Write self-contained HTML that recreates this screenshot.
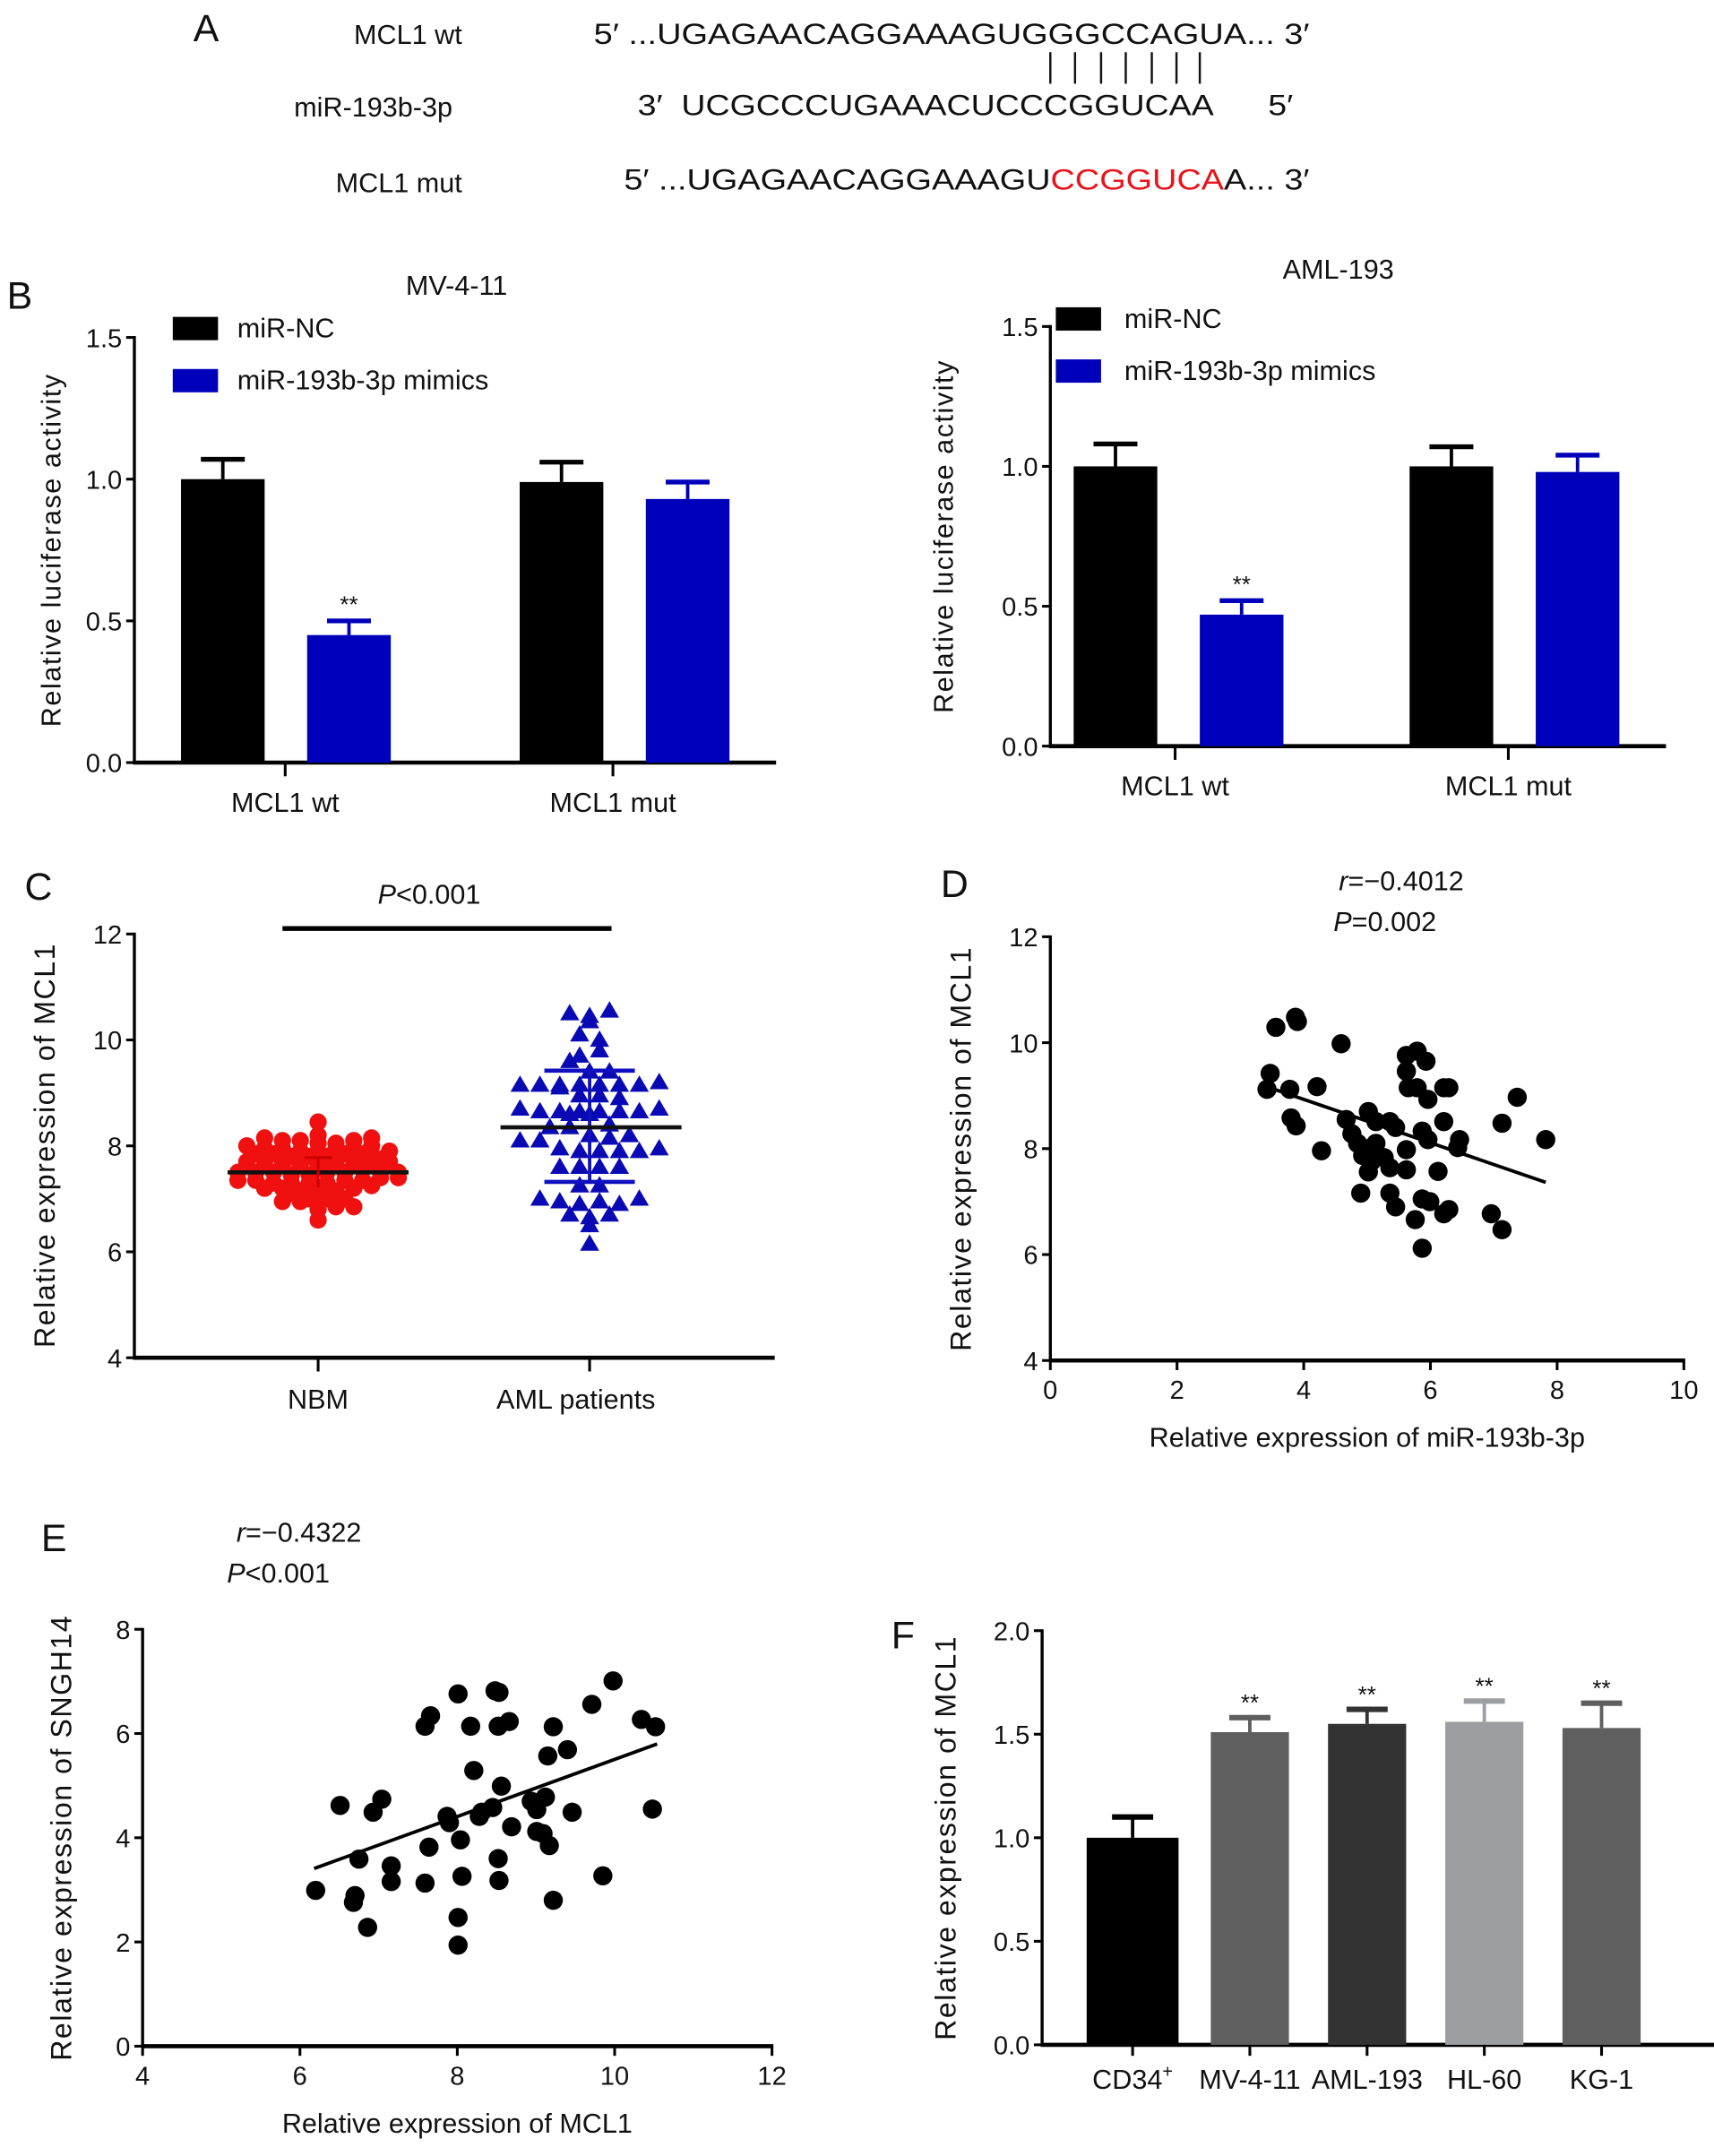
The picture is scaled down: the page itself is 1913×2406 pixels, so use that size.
<!DOCTYPE html>
<html><head><meta charset="utf-8">
<style>
html,body{margin:0;padding:0;background:#fff}
svg{display:block}
text{font-family:"Liberation Sans",sans-serif;fill:#111}
</style></head>
<body>
<svg id="fig" width="1913" height="2406" viewBox="0 0 1250 1572" xmlns="http://www.w3.org/2000/svg">
<!-- Panel A -->
<g>
<text x="141" y="30" font-size="28">A</text>
<text x="337" y="32" font-size="20" text-anchor="end">MCL1 wt</text>
<text x="433" y="32" font-size="21" textLength="522" lengthAdjust="spacingAndGlyphs">5′  ...UGAGAACAGGAAAGUGGGCCAGUA...  3′</text>
<g stroke="#111" stroke-width="1.6">
<line x1="766" y1="38" x2="766" y2="61"/><line x1="784" y1="38" x2="784" y2="61"/><line x1="803" y1="38" x2="803" y2="61"/><line x1="821" y1="38" x2="821" y2="61"/><line x1="840" y1="38" x2="840" y2="61"/><line x1="858" y1="38" x2="858" y2="61"/><line x1="875" y1="38" x2="875" y2="61"/>
</g>
<text x="330" y="85" font-size="20" text-anchor="end">miR-193b-3p</text>
<text x="465" y="84" font-size="21" textLength="478" lengthAdjust="spacingAndGlyphs" xml:space="preserve">3′  UCGCCCUGAAACUCCCGGUCAA      5′</text>
<text x="337" y="140" font-size="20" text-anchor="end">MCL1 mut</text>
<text x="455" y="138" font-size="21" textLength="500" lengthAdjust="spacingAndGlyphs">5′  ...UGAGAACAGGAAAGU<tspan fill="#e8141b">CCGGUCA</tspan>A...  3′</text>
</g>
<text x="5" y="225" font-size="28">B</text>
<text x="18" y="656" font-size="28">C</text>
<text x="686" y="654" font-size="28">D</text>
<text x="30" y="1131" font-size="28">E</text>
<text x="650" y="1202" font-size="28">F</text>
<g id="g"></g>
</svg>
<script>
// ---------- data ----------
const lucGroups = ["MCL1 wt","MCL1 mut"];
const lucSeries = ["miR-NC","miR-193b-3p mimics"];
const mvNC = [1.0, 0.99];
const mvNCerr = [1.07, 1.06];
const mvMim = [0.45, 0.93];
const mvMimErr = [0.50, 0.99];
const amlNC = [1.0, 1.0];
const amlNCerr = [1.08, 1.07];
const amlMim = [0.47, 0.98];
const amlMimErr = [0.52, 1.04];
const lucTicks = [0, 0.5, 1.0, 1.5];
const lucTickLabels = ["0.0","0.5","1.0","1.5"];

const nbmVals = [8.45,
 8.2,8.15,8.1,8.1,8.05,8.05,8.1,8.15,
 8.0,7.95,7.95,7.9,7.9,7.95,7.95,8.0,
 7.85,7.85,7.8,7.8,7.8,7.85,7.85,7.9,
 7.7,7.7,7.65,7.65,7.6,7.65,7.65,7.7,7.7,7.75,
 7.5,7.5,7.5,7.45,7.45,7.5,7.5,7.55,7.55,7.5,
 7.35,7.35,7.3,7.3,7.3,7.3,7.35,7.35,7.4,7.4,
 7.2,7.2,7.15,7.15,7.1,7.15,7.2,7.25,
 7.0,6.95,6.95,6.9,7.0,7.0,
 6.85,6.8,6.85,6.6];
const nbmMean = 7.5, nbmSdHi = 7.78, nbmSdLo = 7.22;
const amlVals = [10.5,10.45,10.55,10.35,
 10.1,10.0,
 9.7,9.8,9.6,
 9.4,9.4,
 9.15,9.15,9.15,9.15,9.1,9.15,9.15,9.15,9.2,
 8.95,8.95,8.9,
 8.7,8.65,8.65,8.65,8.6,8.6,8.65,8.65,8.65,8.7,
 8.4,8.35,8.35,
 8.2,8.1,8.1,8.15,8.2,
 7.95,7.9,7.9,7.9,7.9,7.95,
 7.6,7.6,7.6,7.6,
 7.25,7.25,
 7.0,6.95,6.9,6.95,6.9,7.0,
 6.7,6.65,6.7,
 6.5,6.15];
const amlMean = 8.35, amlSdHi = 9.42, amlSdLo = 7.32;
const cTicks = [4,6,8,10,12];

const dX = [3.56,3.87,3.9,4.59,3.47,3.42,3.78,4.21,3.8,3.88,4.28,4.67,4.76,5.02,5.14,5.36,5.45,4.85,5.02,5.14,4.93,5.07,5.27,5.02,5.36,5.62,5.62,5.87,5.96,6.21,6.46,6.43,6.12,5.62,5.79,5.93,5.62,5.65,5.79,5.96,6.21,6.29,7.37,7.13,7.82,4.9,5.36,5.45,5.87,5.99,5.76,6.21,6.29,6.96,7.13,5.87];
const dY = [10.29,10.48,10.4,9.98,9.42,9.12,9.12,9.17,8.58,8.43,7.96,8.55,8.28,8.7,8.51,8.51,8.4,8.1,8.0,8.1,7.87,7.76,7.83,7.56,7.64,7.98,7.6,8.33,8.17,8.51,8.17,8.02,7.57,9.76,9.84,9.65,9.46,9.15,9.15,8.93,9.15,9.15,8.97,8.48,8.17,7.16,7.16,6.9,7.05,7.0,6.66,6.77,6.85,6.77,6.47,6.12];
const dFit = {a:10.57, b:-0.41, x0:3.42, x1:7.82};
const dXTicks = [0,2,4,6,8,10];
const dYTicks = [4,6,8,10,12];

const eX = [6.2,6.7,6.68,6.86,6.51,6.93,7.04,6.75,7.16,7.16,7.59,7.64,7.59,7.66,7.87,7.9,8.01,8.04,8.06,8.01,8.01,8.17,8.21,8.31,8.45,8.48,8.53,8.52,8.66,8.56,8.52,8.53,8.69,8.94,9.01,9.12,9.01,9.09,9.17,9.15,9.22,9.4,9.46,9.22,9.85,9.71,9.98,10.34,10.52,10.48,8.28,8.99];
const eY = [2.99,2.89,2.76,2.28,4.62,4.49,4.74,3.59,3.46,3.16,3.13,3.82,6.14,6.34,4.41,4.29,6.76,3.96,3.26,2.47,1.94,6.14,5.29,4.49,4.58,6.82,6.79,6.14,6.23,4.99,3.6,3.18,4.21,4.7,4.54,4.78,4.12,4.08,3.85,5.57,6.13,5.69,4.49,2.8,3.27,6.56,7.01,6.27,6.13,4.55,4.41,4.66];
const eFit = {a:0.023, b:0.548, x0:6.18, x1:10.54};
const eXTicks = [4,6,8,10,12];
const eYTicks = [0,2,4,6,8];

const fCats = ["CD34","MV-4-11","AML-193","HL-60","KG-1"];
const fVals = [1.0,1.51,1.55,1.56,1.53];
const fErr = [1.10,1.58,1.62,1.66,1.65];
const fSig = ["","**","**","**","**"];
const fColors = ["#000000","#5f5f5f","#333333","#9d9ea2","#5f5f5f"];
const fTicks = [0,0.5,1.0,1.5,2.0];
const fTickLabels = ["0.0","0.5","1.0","1.5","2.0"];

// ---------- helpers ----------
const NS="http://www.w3.org/2000/svg";
const root=document.getElementById('g');
function mk(tag,attrs,parent,txt){const e=document.createElementNS(NS,tag);for(const k in attrs)e.setAttribute(k,attrs[k]);if(txt!==undefined)e.textContent=txt;(parent||root).appendChild(e);return e;}
function grp(name){const e=mk('g',{});


return e;}
function vtitle(p,x,y,s,size){const t=mk('text',{x:x,y:y,'font-size':size||20,'text-anchor':'middle',transform:`rotate(-90 ${x} ${y})`,'letter-spacing':'1'},p,s);


return t;}
function yAxis(p,x,ytop,ybot,ticks,labels,fy){mk('line',{x1:x,y1:ytop-1,x2:x,y2:ybot,stroke:'#000','stroke-width':2.2},p);
ticks.forEach((v,i)=>{const y=fy(v);mk('line',{x1:x-6,y1:y,x2:x,y2:y,stroke:'#000','stroke-width':2},p);
const t=mk('text',{x:x-9,y:y+7,'font-size':19,'text-anchor':'end'},p,labels[i]);

});}
function xAxisLine(p,x0,x1,y){mk('line',{x1:x0,y1:y,x2:x1,y2:y,stroke:'#000','stroke-width':3},p);}

// ---------- luciferase bar charts ----------
function lucChart(name,title,tx,ty,ax,ytop,ybot,xend,gc,tickX,nc,ncE,mi,miE,legY,yTitleX){
 const p=grp(name);
 const fy=v=>ybot-v*(ybot-ytop)/1.5;
 const t=mk('text',{x:tx,y:ty,'font-size':20,'text-anchor':'middle'},p,title);
 
 
 yAxis(p,ax,ytop,ybot,lucTicks,lucTickLabels,fy);
 xAxisLine(p,ax-1,xend,ybot);
 const bw=61;
 lucGroups.forEach((g,i)=>{
  const cx=gc[i];
  mk('line',{x1:tickX[i],y1:ybot,x2:tickX[i],y2:ybot+10,stroke:'#000','stroke-width':2},p);
  const l=mk('text',{x:tickX[i],y:ybot+36,'font-size':20,'text-anchor':'middle'},p,g);
  
  
  [[nc,ncE,'#000',cx-76],[mi,miE,'#0000bb',cx+16]].forEach((s,k)=>{
   const x0=s[3],v=s[0][i],e=s[1][i];
   mk('line',{x1:x0+bw/2,y1:fy(v),x2:x0+bw/2,y2:fy(e),stroke:s[2],'stroke-width':2.5},p);
   mk('line',{x1:x0+bw/2-16,y1:fy(e),x2:x0+bw/2+16,y2:fy(e),stroke:s[2],'stroke-width':3.5},p);
   const r=mk('rect',{x:x0,y:fy(v),width:bw,height:ybot-fy(v),fill:s[2]},p);
   
   
   if(k===1&&v<0.6){const st=mk('text',{x:x0+bw/2,y:fy(e)-6,'font-size':17,'text-anchor':'middle'},p,'**');
    
    }
  });
 });
 const lg=mk('g',{},p);
 
 
 lucSeries.forEach((s,i)=>{
  const y=legY+i*38;
  mk('rect',{x:ax+(name==='chart-mv-4-11'?28:4),y:y-8,width:33,height:17,fill:i?'#0000bb':'#000'},lg);
  const t2=mk('text',{x:ax+(name==='chart-mv-4-11'?75:54),y:y+7,'font-size':20},lg,s);
  
  
 });
 vtitle(p,yTitleX,(ytop+ybot)/2,'Relative luciferase activity',20);
}
lucChart('chart-mv-4-11','MV-4-11',333,215,98,246,556,566,[208,455],[208,447],mvNC,mvNCerr,mvMim,mvMimErr,239,44);
lucChart('chart-aml-193','AML-193',976,203,766,238,544,1215,[859,1104],[857,1100],amlNC,amlNCerr,amlMim,amlMimErr,232,695);

// ---------- panel C scatter (beeswarm) ----------
(function(){
 const p=grp('chart-c-dotplot');
 const ytop=681,ybot=990;
 const fy=v=>ybot-(v-4)*(ybot-ytop)/8;
 yAxis(p,98,ytop,ybot,cTicks,cTicks.map(String),fy);
 xAxisLine(p,97,565,ybot);
 const cx=[232,430];
 ['NBM','AML patients'].forEach((s,i)=>{mk('line',{x1:cx[i],y1:ybot,x2:cx[i],y2:ybot+10,stroke:'#000','stroke-width':2},p);
  const t=mk('text',{x:cx[i]-(i?10:0),y:ybot+37,'font-size':20,'text-anchor':'middle'},p,s);
  
  });
 vtitle(p,40,835,'Relative expression of  MCL1',21);
 const pt=mk('text',{x:313,y:659,'font-size':20,'text-anchor':'middle'},p);
 mk('tspan',{'font-style':'italic'},pt,'P');mk('tspan',{},pt,'<0.001');
 
 
 mk('line',{x1:206,y1:677,x2:446,y2:677,stroke:'#000','stroke-width':3.5},p);
 function swarm(vals,c,step,bin,draw){
  const bins={};vals.forEach(v=>{const k=Math.round(v/bin);(bins[k]=bins[k]||[]).push(v);});
  Object.keys(bins).forEach(k=>{const arr=bins[k];const n=arr.length;
   arr.forEach((v,i)=>{const off=(i-(n-1)/2)*step;draw(c+off,fy(v));});});
 }
 swarm(nbmVals,232,13,0.15,(x,y)=>{const e=mk('circle',{cx:x,cy:y,r:6.3,fill:'#f01010'},p);
  
  });
 swarm(amlVals,430,14.5,0.25,(x,y)=>{const e=mk('polygon',{points:`${x},${y-7} ${x-7},${y+5} ${x+7},${y+5}`,fill:'#0a0ab4'},p);
  
  });
 mk('line',{x1:166,y1:fy(nbmMean),x2:298,y2:fy(nbmMean),stroke:'#111','stroke-width':3},p);
 mk('line',{x1:232,y1:fy(nbmSdHi),x2:232,y2:fy(nbmSdLo),stroke:'#c00','stroke-width':2},p);
 mk('line',{x1:222,y1:fy(nbmSdHi),x2:242,y2:fy(nbmSdHi),stroke:'#c00','stroke-width':2},p);
 mk('line',{x1:430,y1:fy(amlSdHi),x2:430,y2:fy(amlSdLo),stroke:'#1010c0','stroke-width':2.5},p);
 mk('line',{x1:397,y1:fy(amlSdHi),x2:463,y2:fy(amlSdHi),stroke:'#1010c0','stroke-width':3},p);
 mk('line',{x1:397,y1:fy(amlSdLo),x2:463,y2:fy(amlSdLo),stroke:'#1010c0','stroke-width':3},p);
 mk('line',{x1:365,y1:fy(amlMean),x2:497,y2:fy(amlMean),stroke:'#111','stroke-width':3},p);
})();

// ---------- scatter with fit ----------
function scatter(name,ax,x0v,x1v,xend,ytop,ybot,y0v,y1v,xs,ys,fit,xt,yt,xlabel,ylabel,yTitleX,rTxt,rx,ry,pTxt,px,py){
 const p=grp(name);
 const fx=v=>ax+(v-x0v)*(xend-ax)/(x1v-x0v);
 const fy=v=>ybot-(v-y0v)*(ybot-ytop)/(y1v-y0v);
 yAxis(p,ax,ytop,ybot,yt,yt.map(String),fy);
 xAxisLine(p,ax-1,xend+1,ybot);
 xt.forEach(v=>{const x=fx(v);mk('line',{x1:x,y1:ybot,x2:x,y2:ybot+7,stroke:'#000','stroke-width':2},p);
  const t=mk('text',{x:x,y:ybot+28,'font-size':19,'text-anchor':'middle'},p,String(v));
  
  });
 const xl=mk('text',{x:(ax+xend)/2,y:ybot+63,'font-size':20,'text-anchor':'middle'},p,xlabel);
 
 
 vtitle(p,yTitleX,(ytop+ybot)/2,ylabel,21);
 xs.forEach((v,i)=>{const c=mk('circle',{cx:fx(v),cy:fy(ys[i]),r:7,fill:'#000'},p);
  
  });
 const l=mk('line',{x1:fx(fit.x0),y1:fy(fit.a+fit.b*fit.x0),x2:fx(fit.x1),y2:fy(fit.a+fit.b*fit.x1),stroke:'#000','stroke-width':2.5},p);
 
 
 const r=mk('text',{x:rx,y:ry,'font-size':20,'text-anchor':'middle'},p);
 mk('tspan',{'font-style':'italic'},r,'r');mk('tspan',{},r,rTxt);
 
 
 const q=mk('text',{x:px,y:py,'font-size':20,'text-anchor':'middle'},p);
 mk('tspan',{'font-style':'italic'},q,'P');mk('tspan',{},q,pTxt);
 
 
}
scatter('chart-d-scatter',766,0,10,1228,683,992,4,12,dX,dY,dFit,dXTicks,dYTicks,'Relative expression of miR-193b-3p','Relative expression of  MCL1',708,'=−0.4012',1022,649,'=0.002',1010,679);
scatter('chart-e-scatter',104,4,12,563,1188,1492,0,8,eX,eY,eFit,eXTicks,eYTicks,'Relative expression of MCL1','Relative expression of SNGH14',52,'=−0.4322',218,1124,'<0.001',203,1154);

// ---------- panel F ----------
(function(){
 const p=grp('chart-f-bars');
 const ytop=1189,ybot=1491;
 const fy=v=>ybot-v*(ybot-ytop)/2;
 yAxis(p,760,ytop,ybot,fTicks,fTickLabels,fy);
 xAxisLine(p,759,1250,ybot);
 vtitle(p,697,1340,'Relative expression of MCL1',21);
 fCats.forEach((c,i)=>{
  const cx=826+i*85.5,bw=i?57:67;
  mk('line',{x1:cx,y1:fy(fVals[i]),x2:cx,y2:fy(fErr[i]),stroke:fColors[i],'stroke-width':2.5},p);
  mk('line',{x1:cx-15,y1:fy(fErr[i]),x2:cx+15,y2:fy(fErr[i]),stroke:fColors[i],'stroke-width':4},p);
  const r=mk('rect',{x:cx-bw/2,y:fy(fVals[i]),width:bw,height:ybot-fy(fVals[i]),fill:fColors[i]},p);
  
  
  mk('line',{x1:cx,y1:ybot,x2:cx,y2:ybot+8,stroke:'#000','stroke-width':2},p);
  const t=mk('text',{x:cx,y:ybot+32,'font-size':20,'text-anchor':'middle'},p,c);
  if(i===0)mk('tspan',{dy:-8,'font-size':13},t,'+');
  
  
  if(fSig[i]){const s=mk('text',{x:cx,y:fy(fErr[i])-5,'font-size':17,'text-anchor':'middle'},p,fSig[i]);
   
   }
 });
})();
</script>
</body></html>
